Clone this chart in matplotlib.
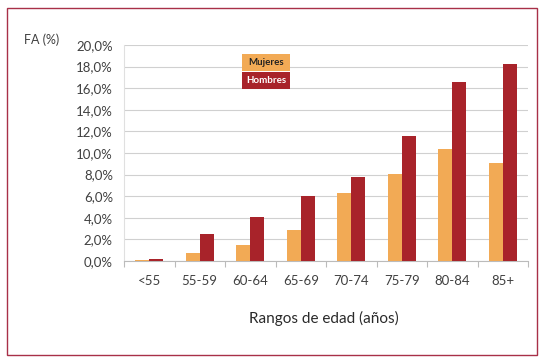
import matplotlib
matplotlib.use("Agg")
import matplotlib.pyplot as plt
import numpy as np
from matplotlib.patches import Rectangle
from matplotlib.ticker import FuncFormatter, FixedLocator

categories = ["<55", "55-59", "60-64", "65-69", "70-74", "75-79", "80-84", "85+"]
mujeres = [0.1, 0.7, 1.5, 2.9, 6.3, 8.1, 10.4, 9.1]
hombres = [0.2, 2.5, 4.1, 6.0, 7.8, 11.6, 16.6, 18.2]
series_names = ["Mujeres", "Hombres"]

c_muj = "#F2AA55"
c_hom = "#A8232A"
txt = "#404040"

plt.rcParams['font.family'] = ['Lato', 'DejaVu Sans']

fig = plt.figure(figsize=(5.46, 3.61), dpi=100)
fig.patch.set_facecolor("white")

# outer frame
fig.patches.append(Rectangle((7/546, 1-355/361), (537-7)/546, (355-8)/361,
                             transform=fig.transFigure, fill=False,
                             edgecolor="#A83048", linewidth=1.0))

ax = fig.add_axes([124/546, 1-261/361, (528-124)/546, (261-45)/361])
x = np.arange(len(categories))
w = 0.28
ax.bar(x - w/2, mujeres, width=w, color=c_muj, zorder=3)
ax.bar(x + w/2, hombres, width=w, color=c_hom, zorder=3)

ax.set_xlim(-0.5, len(categories) - 0.5)
ax.set_ylim(0, 20)
ax.set_yticks(np.arange(0, 21, 2))
ax.yaxis.set_major_formatter(FuncFormatter(lambda v, p: f"{v:.1f}%".replace(".", ",")))
ax.grid(axis="y", color="#D0D0D0", linewidth=0.8, zorder=0)
ax.set_xticks(x)
ax.set_xticklabels(categories)
ax.xaxis.set_minor_locator(FixedLocator(np.arange(-0.5, len(categories), 1)))
ax.tick_params(axis="x", which="major", length=0, pad=10, labelsize=9.5, labelcolor=txt)
ax.tick_params(axis="x", which="minor", length=4, color="#BBBBBB", width=0.8)
ax.tick_params(axis="y", length=0, pad=8, labelsize=9.5, labelcolor=txt)
for s in ["top", "right"]:
    ax.spines[s].set_visible(False)
ax.spines["left"].set_color("#E0E0E0")
ax.spines["bottom"].set_color("#BBBBBB")
ax.spines["bottom"].set_linewidth(0.8)

# legend boxes
for i, (name, col, tc) in enumerate([(series_names[0], c_muj, "#222222"), (series_names[1], c_hom, "white")]):
    y0 = 1 - (71 + i*18) / 361
    fig.patches.append(Rectangle((242/546, y0), 48/546, 17/361, transform=fig.transFigure,
                                 facecolor=col, edgecolor="none", zorder=5))
    fig.text(266/546, y0 + 8.5/361, name, ha="center", va="center", fontsize=7,
             color=tc, fontweight="bold", zorder=6)

fig.text(42/546, 1-40/361, "FA (%)", ha="center", va="center", fontsize=9, color=txt)
fig.text(324/546, 1-318/361, "Rangos de edad (años)", ha="center", va="center",
         fontsize=11, color="#2a2a2a")

fig.savefig("out.png", dpi=100)
